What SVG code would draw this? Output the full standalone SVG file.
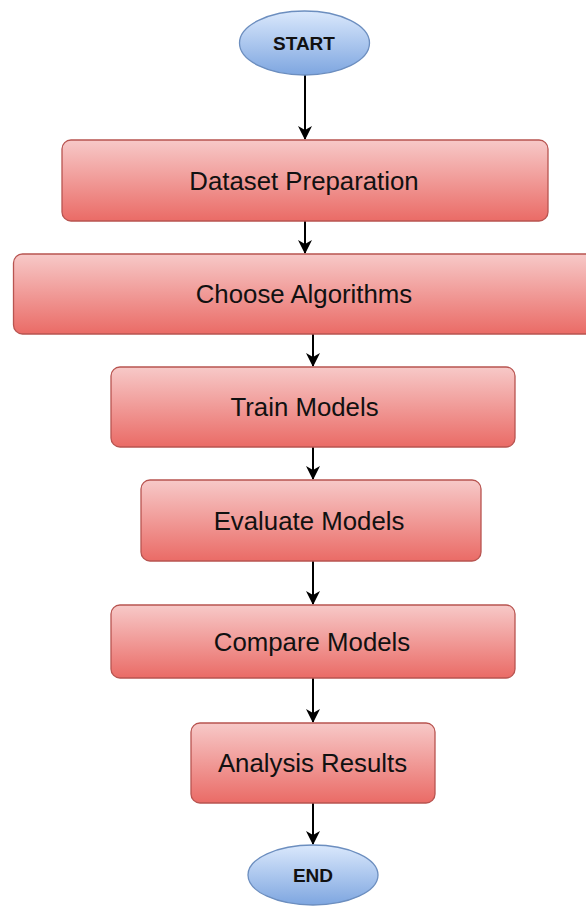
<svg xmlns="http://www.w3.org/2000/svg" width="586" height="908" viewBox="0 0 586 908">
<style>
.box{fill:url(#red);stroke:#b85450;stroke-width:1.3}
.oval{fill:url(#blue);stroke:#6c8ebf;stroke-width:1.3}
.lbl{font-family:"Liberation Sans",Arial,sans-serif;font-size:25.8px;fill:#111;text-anchor:middle;dominant-baseline:central}
.olbl{font-family:"Liberation Sans",Arial,sans-serif;font-size:19px;font-weight:bold;fill:#111;text-anchor:middle;dominant-baseline:central}
.edge{stroke:#000;stroke-width:2;fill:none;marker-end:url(#arr)}
</style>
<defs>
<linearGradient id="red" x1="0" y1="0" x2="0" y2="1">
<stop offset="0" stop-color="#f7c9c8"/>
<stop offset="1" stop-color="#ea6b66"/>
</linearGradient>
<linearGradient id="blue" x1="0" y1="0" x2="0" y2="1">
<stop offset="0" stop-color="#dae8fc"/>
<stop offset="1" stop-color="#7ea6e0"/>
</linearGradient>
<marker id="arr" markerWidth="14" markerHeight="16" refX="13" refY="7" orient="auto" markerUnits="userSpaceOnUse">
<path d="M0,0 L14,7 L0,14 L4,7 Z" fill="#000"/>
</marker>
</defs>
<g id="connectors">
<line class="edge" x1="305" y1="75" x2="305" y2="139"/>
<line class="edge" x1="305" y1="221" x2="305" y2="253"/>
<line class="edge" x1="313" y1="334" x2="313" y2="366"/>
<line class="edge" x1="313" y1="447" x2="313" y2="479"/>
<line class="edge" x1="313" y1="561" x2="313" y2="604"/>
<line class="edge" x1="313" y1="678" x2="313" y2="722"/>
<line class="edge" x1="313" y1="803" x2="313" y2="844"/>
</g>
<g id="start">
<ellipse class="oval" cx="304.5" cy="43" rx="65" ry="32"/>
<text class="olbl" x="304" y="43">START</text>
</g>
<g id="dataset">
<rect class="box" x="62" y="140" width="486" height="81" rx="9"/>
<text class="lbl" x="304" y="181">Dataset Preparation</text>
</g>
<g id="choose">
<rect class="box" x="13.5" y="254" width="582" height="80" rx="9"/>
<text class="lbl" x="304" y="294">Choose Algorithms</text>
</g>
<g id="train">
<rect class="box" x="111" y="367" width="404" height="80" rx="9"/>
<text class="lbl" x="304.5" y="407">Train Models</text>
</g>
<g id="evaluate">
<rect class="box" x="141" y="480" width="340" height="81" rx="9"/>
<text class="lbl" x="309" y="520.5">Evaluate Models</text>
</g>
<g id="compare">
<rect class="box" x="111" y="605" width="404" height="73" rx="9"/>
<text class="lbl" x="312" y="641.5">Compare Models</text>
</g>
<g id="analysis">
<rect class="box" x="191" y="723" width="244" height="80" rx="9"/>
<text class="lbl" x="312.5" y="763">Analysis Results</text>
</g>
<g id="end">
<ellipse class="oval" cx="313" cy="875" rx="65" ry="30"/>
<text class="olbl" x="313" y="875">END</text>
</g>
</svg>
